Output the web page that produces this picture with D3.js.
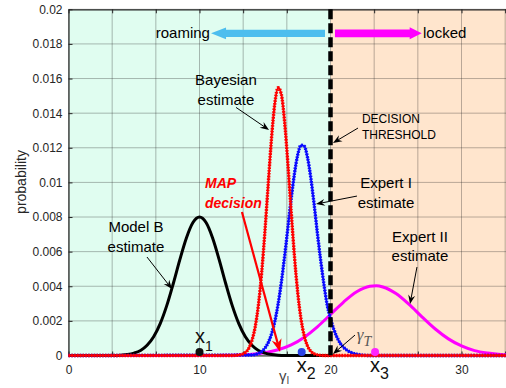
<!DOCTYPE html>
<html><head><meta charset="utf-8">
<script src="https://cdn.jsdelivr.net/npm/d3@7"></script>
<style>body{margin:0;background:#fff;} svg{display:block;font-family:"Liberation Sans",Arial,Helvetica,sans-serif;}</style>
</head><body><svg id="c" width="506" height="388"></svg>
<script>
// ---------- data ----------
const xDomain = [0, 33.5];
const yDomain = [0, 0.02];
const xTicks = [0, 10/3, 20/3, 10, 40/3, 50/3, 20, 70/3, 80/3, 30, 100/3];
const xTickLabels = ["0", "", "", "10", "", "", "20", "", "", "30", ""];
const yTicks = [0, 0.002, 0.004, 0.006, 0.008, 0.01, 0.012, 0.014, 0.016, 0.018, 0.02];
const yTickLabels = ["0", "0.002", "0.004", "0.006", "0.008", "0.01", "0.012", "0.014", "0.016", "0.018", "0.02"];
const threshold = 20;

// Model B estimate (black)
const modelBX = [0, 3.5, 4, 4.5, 5, 5.5, 6, 6.5, 7, 7.5, 8, 8.5, 9, 9.5, 10, 10.5, 11, 11.5, 12, 12.5, 13, 13.5, 14, 14.5, 15, 15.5, 16, 16.5, 20];
const modelBY = [0, 0, 0.00002, 0.00006, 0.00014, 0.00029, 0.00059, 0.00108, 0.00184, 0.00288, 0.00416, 0.00554, 0.00679, 0.00768, 0.008, 0.00768, 0.00679, 0.00554, 0.00416, 0.00288, 0.00184, 0.00108, 0.00059, 0.00029, 0.00014, 0.00006, 0.00002, 0, 0];

// Bayesian estimate (red, markers)
const bayesX = [0, 12.5, 13, 13.25, 13.5, 13.75, 14, 14.25, 14.5, 14.75, 15, 15.25, 15.5, 15.75, 16, 16.25, 16.5, 16.75, 17, 17.25, 17.5, 17.75, 18, 18.25, 18.5, 18.75, 19, 19.5, 33.5];
const bayesY = [0, 0, 0.00003, 0.00007, 0.00017, 0.0004, 0.00085, 0.00165, 0.00294, 0.00481, 0.00723, 0.00995, 0.01257, 0.01456, 0.01547, 0.01508, 0.01347, 0.01104, 0.0083, 0.00572, 0.00362, 0.0021, 0.00112, 0.00054, 0.00024, 0.0001, 0.00004, 0, 0];

// Expert I estimate (blue, markers)
const expert1X = [0, 14, 14.5, 14.75, 15, 15.25, 15.5, 15.75, 16, 16.25, 16.5, 16.75, 17, 17.25, 17.5, 17.75, 18, 18.25, 18.5, 18.75, 19, 19.25, 19.5, 19.75, 20, 20.25, 20.5, 20.75, 21, 21.5, 22, 22.5, 23, 33.5];
const expert1Y = [0, 0.00003, 0.00012, 0.00023, 0.00043, 0.00075, 0.00125, 0.00197, 0.00297, 0.00424, 0.00575, 0.0074, 0.00905, 0.01051, 0.0116, 0.01215, 0.01209, 0.01142, 0.01025, 0.00873, 0.00706, 0.0055, 0.0041, 0.0029, 0.00215, 0.00152, 0.00105, 0.0007, 0.00047, 0.0002, 0.00008, 0.00002, 0, 0];

// Expert II estimate (magenta)
const expert2X = [0, 10, 11, 12, 13, 14, 15, 16, 17, 18, 19, 20, 21, 22, 23, 23.5, 24, 25, 26, 27, 28, 29, 30, 31, 32, 33, 33.5];
const expert2Y = [0, 0, 0, 0.00001, 0.00003, 0.00007, 0.00016, 0.00033, 0.00061, 0.00106, 0.00166, 0.00237, 0.00309, 0.00368, 0.004, 0.00403, 0.00396, 0.00358, 0.00295, 0.00222, 0.00153, 0.00096, 0.00055, 0.00028, 0.00014, 0.00006, 0.00004];

// observations on the axis
const pointNames = ["x1", "x2", "x3"];
const pointX = [10, 17.8, 23.4];
const pointY = [0.0002, 0.0002, 0.0002];
const pointColors = ["#111111", "#2a44e8", "#ff22ff"];

// decisions
const gammaI = 16.2;
const gammaT = 20;

// ---------- drawing ----------
const svg = d3.select("#c");
const x = d3.scaleLinear().domain(xDomain).range([68.5, 507.35]);
const y = d3.scaleLinear().domain(yDomain).range([355.5, 9.3]);
const axisColor = "#262626";

// backgrounds
svg.append("rect").attr("x", x(0)).attr("y", y(0.02)).attr("width", x(threshold) - x(0)).attr("height", y(0) - y(0.02)).attr("fill", "#E0FDF0");
svg.append("rect").attr("x", x(threshold)).attr("y", y(0.02)).attr("width", x(33.5) - x(threshold)).attr("height", y(0) - y(0.02)).attr("fill", "#FFE5CD");

// grid
const grid = svg.append("g").attr("stroke", axisColor).attr("stroke-opacity", 0.32).attr("stroke-width", 1);
xTicks.forEach(t => grid.append("line").attr("x1", x(t)).attr("x2", x(t)).attr("y1", y(0)).attr("y2", y(0.02)));
yTicks.forEach(t => grid.append("line").attr("x1", x(0)).attr("x2", x(33.5)).attr("y1", y(t)).attr("y2", y(t)));

// axes
const ax = svg.append("g").attr("transform", `translate(0,${y(0)})`)
  .call(d3.axisBottom(x).tickValues(xTicks).tickFormat((d, i) => xTickLabels[i]).tickSizeInner(-4).tickSizeOuter(0).tickPadding(10));
const at = svg.append("g").attr("transform", `translate(0,${y(0.02)})`)
  .call(d3.axisTop(x).tickValues(xTicks).tickFormat(() => "").tickSizeInner(-4).tickSizeOuter(0));
const ay = svg.append("g").attr("transform", `translate(${x(0)},0)`)
  .call(d3.axisLeft(y).tickValues(yTicks).tickFormat((d, i) => yTickLabels[i]).tickSizeInner(-4).tickSizeOuter(0).tickPadding(6));
[ax, at, ay].forEach(g => {
  g.selectAll("path.domain").attr("stroke", axisColor).attr("stroke-width", 1.2);
  g.selectAll(".tick line").attr("stroke", axisColor);
  g.selectAll(".tick text").attr("fill", axisColor).attr("font-size", 12).attr("font-family", "Liberation Sans, Arial, sans-serif");
});

svg.append("text").attr("transform", `translate(21,182) rotate(-90)`).attr("text-anchor", "middle")
  .attr("dy", "0.35em").attr("font-size", 14).attr("fill", axisColor).text("probability");

// curves
const line = d3.line().x(d => x(d[0])).y(d => y(d[1])).curve(d3.curveMonotoneX);
const zip = (a, b) => a.map((v, i) => [v, b[i]]);

svg.append("path").attr("d", line(zip(expert2X, expert2Y))).attr("fill", "none").attr("stroke", "#FF00FF").attr("stroke-width", 3);
svg.append("path").attr("d", line(zip(modelBX, modelBY))).attr("fill", "none").attr("stroke", "#000").attr("stroke-width", 3);

function beaded(xs, ys, color) {
  const d = line(zip(xs, ys));
  svg.append("path").attr("d", d).attr("fill", "none").attr("stroke", color).attr("stroke-width", 1.9);
  svg.append("path").attr("d", d).attr("fill", "none").attr("stroke", color).attr("stroke-width", 3.4).attr("stroke-dasharray", "1.6,1.2");
}
beaded(expert1X, expert1Y, "#0a0aff");

// decision interval on axis
svg.append("line").attr("x1", x(gammaI)).attr("x2", x(gammaT)).attr("y1", y(0)).attr("y2", y(0)).attr("stroke", "#000").attr("stroke-width", 3);

beaded(bayesX, bayesY, "#ff0000");

// threshold line
svg.append("line").attr("x1", x(threshold)).attr("x2", x(threshold)).attr("y1", y(0.02)).attr("y2", y(0))
  .attr("stroke", "#000").attr("stroke-width", 4.5).attr("stroke-dasharray", "10,4");

// points
svg.selectAll("circle.pt").data(pointX).join("circle").attr("class", "pt")
  .attr("cx", d => x(d)).attr("cy", (d, i) => y(pointY[i])).attr("r", 4).attr("fill", (d, i) => pointColors[i]);

// ---------- annotations ----------
function arrow(x0, y0, x1, y1, color, width, L, W, notch) {
  const X0 = x(x0), Y0 = y(y0), X1 = x(x1), Y1 = y(y1);
  const len = Math.hypot(X1 - X0, Y1 - Y0), ux = (X1 - X0) / len, uy = (Y1 - Y0) / len, nx = -uy, ny = ux;
  svg.append("line").attr("x1", X0).attr("y1", Y0).attr("x2", X1 - (L - notch) * ux).attr("y2", Y1 - (L - notch) * uy)
    .attr("stroke", color).attr("stroke-width", width);
  const pts = [[X1, Y1], [X1 - L * ux + W * nx, Y1 - L * uy + W * ny], [X1 - (L - notch) * ux, Y1 - (L - notch) * uy], [X1 - L * ux - W * nx, Y1 - L * uy - W * ny]];
  svg.append("polygon").attr("points", pts.map(p => p.join(",")).join(" ")).attr("fill", color);
}
function label(lines, tx, tys, anchor, size, opts = {}) {
  lines.forEach((s, i) => {
    svg.append("text").attr("x", x(tx)).attr("y", y(tys[i])).attr("text-anchor", anchor)
      .attr("font-size", size).attr("fill", opts.color || "#000")
      .attr("font-weight", opts.weight || "normal").attr("font-style", opts.style || "normal").text(s);
  });
}

label(["Bayesian", "estimate"], 12.02, [0.01562, 0.0145], "middle", 15);
arrow(12.79, 0.01433, 15.31, 0.01303, "#000", 1, 9, 3.5, 3);

label(["Model B", "estimate"], 5.15, [0.00715, 0.006], "middle", 15);
arrow(5.99, 0.00569, 7.90, 0.00384, "#000", 1, 9, 3.5, 3);

label(["Expert I", "estimate"], 24.24, [0.00966, 0.0085], "middle", 15);
arrow(22.02, 0.00921, 18.89, 0.00875, "#000", 1, 9, 3.5, 3);

label(["Expert II", "estimate"], 26.83, [0.00657, 0.00546], "middle", 15);
arrow(26.60, 0.00511, 26.07, 0.00297, "#000", 1, 9, 3.5, 3);

label(["DECISION", "THRESHOLD"], 22.40, [0.01341, 0.01249], "start", 12);
arrow(22.10, 0.01314, 20.19, 0.01228, "#000", 1, 9, 3.5, 3);

label(["MAP", "decision"], 10.42, [0.00966, 0.0085], "start", 14, {color: "#ff0000", weight: "bold", style: "italic"});
arrow(13.24, 0.00829, 16.15, 0.0002, "#ff0000", 2.2, 13, 5, 4);

arrow(21.87, 0.00118, 20.19, 0.00009, "#000", 1, 9, 3.5, 3);

// roaming / locked arrows
function bigArrow(xTail, xTip, yv, color, shaftH, headH, headL) {
  const T = x(xTail), P = x(xTip), Y = y(yv), s = Math.sign(P - T);
  const B = P - s * headL;
  const pts = [[T, Y - shaftH], [B, Y - shaftH], [B, Y - headH], [P, Y], [B, Y + headH], [B, Y + shaftH], [T, Y + shaftH]];
  svg.append("polygon").attr("points", pts.map(p => p.join(",")).join(" ")).attr("fill", color);
}
bigArrow(19.58, 10.88, 0.01861, "#4DBEEE", 3.6, 5.8, 15);
bigArrow(20.34, 26.96, 0.01861, "#FF00FF", 3.8, 6, 12);
label(["roaming"], 10.80, [0.01834], "end", 15);
label(["locked"], 27.06, [0.01834], "start", 15);

// point labels
function subLabel(main, sub, tx, ty, size, subSize, color, family, style, shift) {
  const t = svg.append("text").attr("x", x(tx)).attr("y", y(ty)).attr("fill", color)
    .attr("font-size", size).attr("font-family", family).attr("font-style", style);
  t.append("tspan").text(main);
  t.append("tspan").attr("font-size", subSize).attr("dy", shift).text(sub);
}
subLabel("x", "1", 9.66, 0.000705, 20, 14, "#111", "Liberation Sans, Arial, sans-serif", "normal", 7.5);
subLabel("x", "2", 17.42, -0.000936, 20, 16, "#111", "Liberation Sans, Arial, sans-serif", "normal", 7.5);
subLabel("x", "3", 23.02, -0.000936, 20, 16, "#111", "Liberation Sans, Arial, sans-serif", "normal", 7.5);
subLabel("γ", "I", 16.07, -0.00145, 15, 10, "#444", "Liberation Sans, Arial, sans-serif", "normal", 3.5);
subLabel("γ", "T", 22.0, 0.0009, 17, 14, "#555", "Liberation Serif, Times New Roman, serif", "italic", 6);
</script></body></html>
